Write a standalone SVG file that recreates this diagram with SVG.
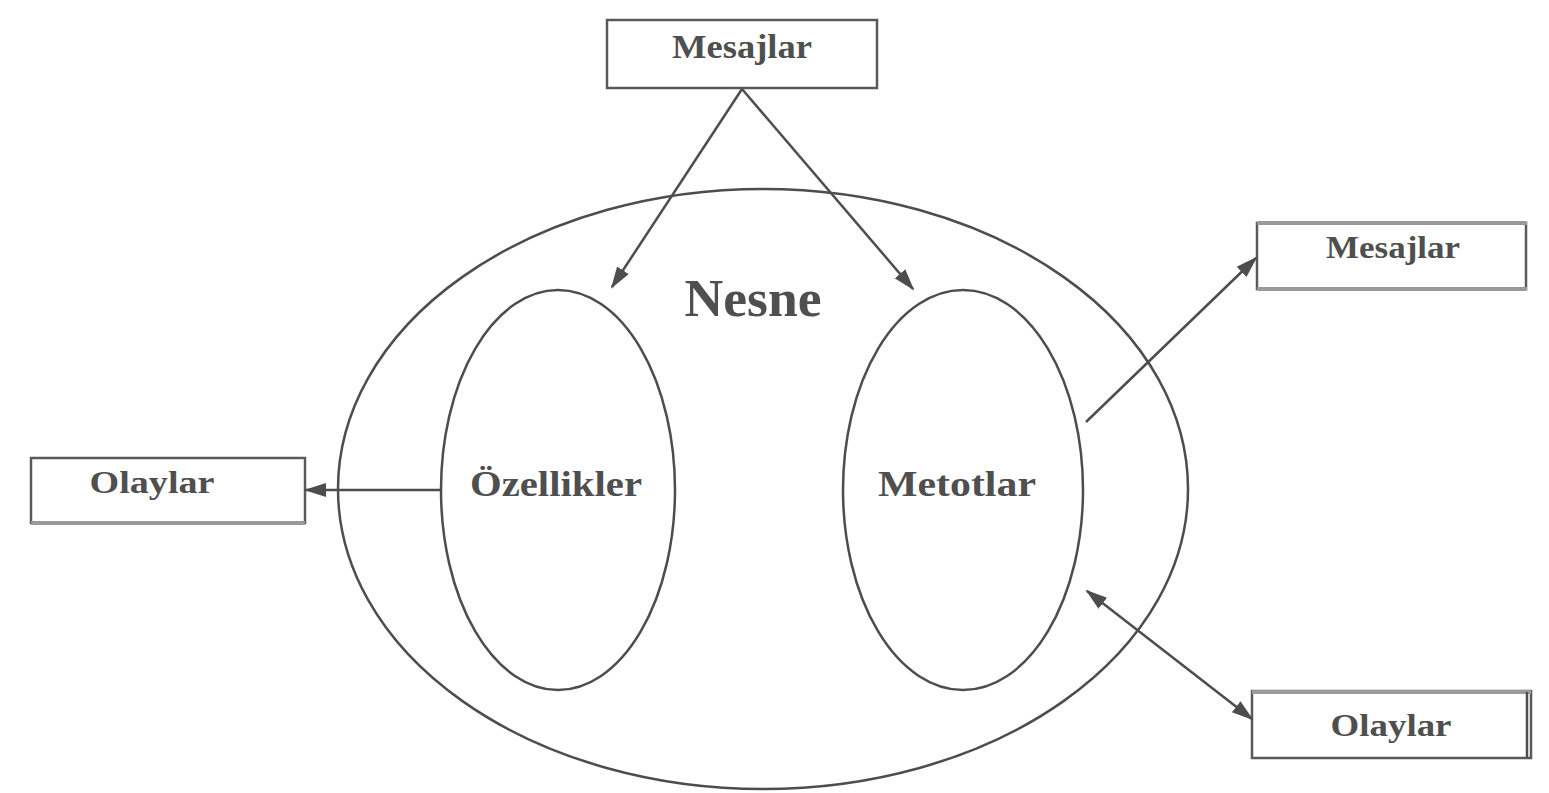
<svg xmlns="http://www.w3.org/2000/svg" width="1549" height="793" viewBox="0 0 1549 793">
<style>
.bg{fill:#ffffff}
.box{fill:#ffffff;stroke:#5a5a5a;stroke-width:2.5}
.ell{fill:none;stroke:#4d4d4d;stroke-width:2.5}
.lbl{font-family:"Liberation Serif","Times New Roman",serif;font-weight:bold;fill:#4f4f4f;text-anchor:middle}
.con{stroke:#4d4d4d;stroke-width:2.5;fill:none}
.thick{stroke:#9a9a9a;stroke-width:4}
</style>
<defs>
<marker id="ah" markerUnits="userSpaceOnUse" markerWidth="24" markerHeight="18" refX="20" refY="8" orient="auto-start-reverse" viewBox="0 0 24 16">
<path d="M0,1 L22,8 L0,15 Z" fill="#4d4d4d"/>
</marker>
</defs>
<rect class="bg" x="0" y="0" width="1549" height="793"/>

<g id="nesne">
<ellipse class="ell" cx="763" cy="489" rx="425" ry="300"/>
<text class="lbl" x="753" y="316" font-size="52" textLength="137" lengthAdjust="spacingAndGlyphs">Nesne</text>
</g>

<g id="ozellikler">
<ellipse class="ell" cx="558" cy="490" rx="117" ry="200"/>
<text class="lbl" x="556" y="496" font-size="36" textLength="172" lengthAdjust="spacingAndGlyphs">Özellikler</text>
</g>

<g id="metotlar">
<ellipse class="ell" cx="963" cy="490" rx="120" ry="200"/>
<text class="lbl" x="957" y="496" font-size="36" textLength="158" lengthAdjust="spacingAndGlyphs">Metotlar</text>
</g>

<g id="mesajlar-top">
<rect class="box" x="607" y="20" width="270" height="68"/>
<text class="lbl" x="742" y="58" font-size="33" textLength="140" lengthAdjust="spacingAndGlyphs">Mesajlar</text>
</g>

<g id="mesajlar-right">
<rect class="box" x="1257" y="223" width="269" height="66"/>
<line class="thick" x1="1257" y1="223" x2="1527" y2="223"/>
<line class="thick" x1="1257" y1="289" x2="1527" y2="289"/>
<text class="lbl" x="1393" y="258" font-size="31" textLength="134" lengthAdjust="spacingAndGlyphs">Mesajlar</text>
</g>

<g id="olaylar-left">
<rect class="box" x="31" y="458" width="274" height="65"/>
<line class="thick" x1="31" y1="523" x2="305" y2="523"/>
<text class="lbl" x="152" y="493" font-size="31" textLength="125" lengthAdjust="spacingAndGlyphs">Olaylar</text>
</g>

<g id="olaylar-right">
<rect class="box" x="1252" y="691" width="279" height="67"/>
<line class="thick" x1="1252" y1="692" x2="1531" y2="692"/>
<line class="con" x1="1527" y1="692" x2="1527" y2="758"/>
<text class="lbl" x="1391" y="736" font-size="31" textLength="121" lengthAdjust="spacingAndGlyphs">Olaylar</text>
</g>

<g id="connectors">
<line class="con" x1="742" y1="89" x2="612" y2="287" marker-end="url(#ah)"/>
<line class="con" x1="742" y1="89" x2="913" y2="289" marker-end="url(#ah)"/>
<line class="con" x1="441" y1="490" x2="306" y2="490" marker-end="url(#ah)"/>
<line class="con" x1="1086" y1="422" x2="1256" y2="258" marker-end="url(#ah)"/>
<line class="con" x1="1087" y1="591" x2="1252" y2="719" marker-start="url(#ah)" marker-end="url(#ah)"/>
</g>
</svg>
